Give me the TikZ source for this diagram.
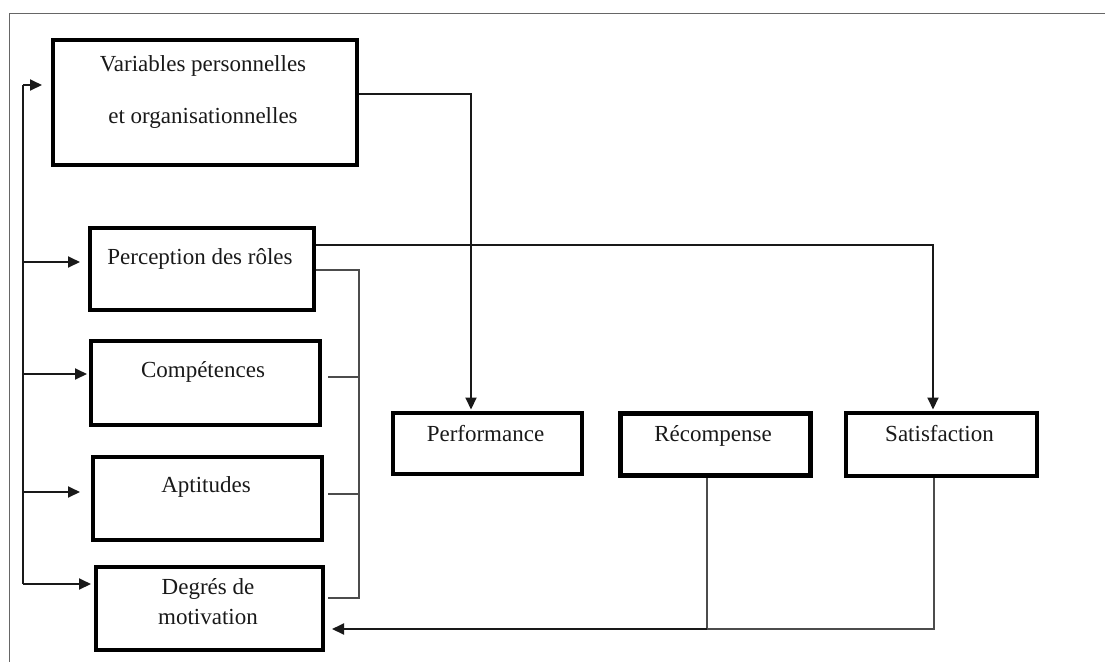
\documentclass[tikz,border=0pt]{standalone}
\usepackage{fontspec}
\setmainfont{Liberation Serif}
\usetikzlibrary{arrows.meta}

\tikzset{
  box/.style={draw=black, line width=3.5pt, rectangle, inner sep=0pt, anchor=north west},
  txt/.style={anchor=base, inner sep=0pt, text=black!90,
              font=\fontsize{23}{27}\selectfont},
  conn/.style={draw=black!90, line width=1.9pt},
  thinconn/.style={draw=black!70, line width=1.4pt},
  arr/.style={conn, -{Triangle[length=12pt,width=11pt]}},
  frameline/.style={draw=black!60, line width=1pt}
}

\begin{document}
\begin{tikzpicture}[x=1pt, y=-1pt]
\useasboundingbox (0,0) rectangle (1105,662);

% outer frame (top and left edges only)
\draw[frameline] (1105,13) -- (9,13) -- (9,662);

% boxes
\node[box, minimum width=304pt, minimum height=125pt] (va) at (51,38) {};
\node[box, minimum width=224pt, minimum height=82pt]  (pr) at (88,226) {};
\node[box, minimum width=229pt, minimum height=84pt]  (co) at (89,339) {};
\node[box, minimum width=229pt, minimum height=83pt]  (ap) at (91,455) {};
\node[box, minimum width=227pt, minimum height=83pt]  (dm) at (94,565) {};
\node[box, minimum width=189pt, minimum height=61pt]  (pf) at (391,411) {};
\node[box, line width=4.5pt, minimum width=190pt, minimum height=62pt] (rc) at (618,411) {};
\node[box, minimum width=191pt, minimum height=63pt]  (sa) at (844,411) {};

% box texts
\node[txt] (vat1) at (203,71)  {Variables personnelles};
\node[txt] (vat2) at (203,123) {et organisationnelles};
\node[txt] (prt)  at (200,264) {Perception des rôles};
\node[txt] (cot)  at (203,377) {Compétences};
\node[txt] (apt)  at (206,492) {Aptitudes};
\node[txt] (dmt1) at (208,594) {Degrés de};
\node[txt] (dmt2) at (208,624) {motivation};
\node[txt] (pft)  at (485.5,441) {Performance};
\node[txt] (rct)  at (713,441) {Récompense};
\node[txt] (sat)  at (939.5,441) {Satisfaction};

% feedback bus on the left
\coordinate (busTop) at (23,85);
\coordinate (busBot) at (23,584);
\draw[conn] (busTop) -- (busBot);
\draw[arr] (busTop) -- (42,85);
\draw[arr] (23,262) -- (80,262);
\draw[arr] (23,374) -- (87,374);
\draw[arr] (23,492) -- (80,492);
\draw[arr] (busBot) -- (91,584);

% bracket joining the four determinants
\coordinate (brTop) at (359,270);
\coordinate (brBot) at (359,598);
\draw[thinconn] (pr.east |- brTop) -- (brTop) -- (brBot) -- (328,598);
\draw[thinconn] (328,377) -- (359,377);
\draw[thinconn] (328,494) -- (359,494);

% variables -> performance
\draw[arr, shorten >=1.5pt] (va.east |- 0,94) -| (pf.north -| 471,0);
% perception -> satisfaction
\draw[arr, shorten >=1.5pt] (pr.east |- 0,245) -| (sa.north -| 933,0);

% return loop from reward and satisfaction to motivation
\coordinate (join) at (707,629);
\coordinate (dmIn) at (332,629);
\draw[thinconn] (934,478) -- (934,629) -- (join);
\draw[thinconn] (707,478) -- (join);
\draw[arr] (join) -- (dmIn);
\end{tikzpicture}
\end{document}
